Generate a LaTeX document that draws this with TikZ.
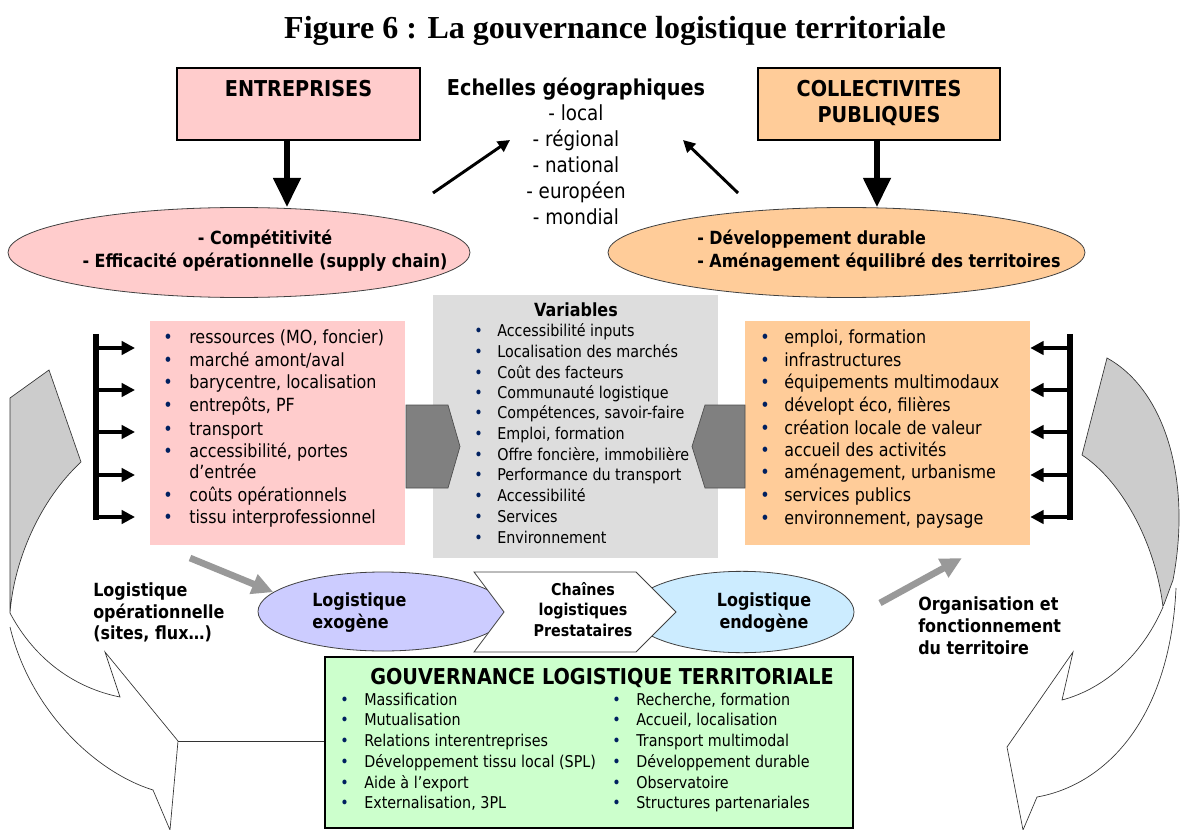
\documentclass[tikz,border=0pt]{standalone}
\usepackage{fontspec}
\setmainfont{DejaVu Sans}[FakeStretch=0.88]
\newfontfamily\titlefont{Liberation Serif}
\usetikzlibrary{arrows.meta,shapes.geometric}

\definecolor{entrpink}{RGB}{255,204,204}
\definecolor{collorange}{RGB}{255,204,153}
\definecolor{vargray}{RGB}{221,221,221}
\definecolor{chevgray}{RGB}{128,128,128}
\definecolor{exolilac}{RGB}{204,204,255}
\definecolor{endoblue}{RGB}{204,236,255}
\definecolor{govgreen}{RGB}{204,255,204}
\definecolor{bulletblue}{RGB}{0,32,96}
\definecolor{backgray}{RGB}{204,204,204}
\definecolor{arrowgray}{RGB}{153,153,153}

\newcommand{\fsmain}{\fontsize{13.6}{16}\selectfont}
\newcommand{\fssmall}{\fontsize{12.2}{15}\selectfont}
\newcommand{\fsbig}{\fontsize{16.4}{19}\selectfont}
\newcommand{\fsech}{\fontsize{15.6}{19}\selectfont}
\newcommand{\fstitle}{\titlefont\bfseries\fontsize{24}{28}\selectfont}
\newcommand{\itm}[1][19.5pt]{\llap{\makebox[#1][l]{\textcolor{bulletblue}{\textbullet}}}}

\begin{document}
\begin{tikzpicture}[x=0.75pt,y=0.75pt,yscale=-1,xscale=1,
  txt/.style={inner sep=0, anchor=base west},
  ctxt/.style={inner sep=0, anchor=base},
  item/.style={txt, font=\fsmain},
  smallitem/.style={txt, font=\fssmall},
  panel/.style={draw=black, line width=0.9pt, inner sep=0},
  flat/.style={inner sep=0},
  blob/.style={ellipse, draw=black!75, line width=0.6pt, inner sep=0},
  chev/.style={fill=chevgray, draw=black!70, line width=0.5pt},
  chain/.style={fill=white, draw=black!75, line width=0.6pt},
  backface/.style={fill=backgray, draw=black!80, line width=0.5pt},
  frontface/.style={fill=white, draw=black!80, line width=0.5pt},
  bigarrow/.style={line width=4.5pt, -{Triangle[width=20pt,length=22pt]}},
  thinarrow/.style={line width=2.2pt, -{Triangle[width=9pt,length=9pt]}},
  brackarrow/.style={line width=3pt, -{Triangle[width=10pt,length=10pt]}},
  grayarrow/.style={line width=5pt, draw=arrowgray, -{Triangle[width=15pt,length=16pt]}}]
\useasboundingbox (0,0) rectangle (1184,830);

% Shape: curved arrow, left
\draw[backface] (10,398) -- (49,370) -- (81,462) .. controls (40,500) and (14,560) .. (10,613) -- cycle;
\draw[frontface] (10,613) .. controls (35,660) and (75,688) .. (120,697) -- (105,652) -- (178,741) -- (170,830) -- (153,790) .. controls (95,772) and (30,710) .. (10,627);
\coordinate (ltip) at (178,741);

% Shape: curved arrow, right
\draw[backface] (1107,358) .. controls (1165,390) and (1192,480) .. (1173,580) -- (1163,607) .. controls (1155,540) and (1120,480) .. (1082,455) -- cycle;
\draw[frontface] (1163,607) .. controls (1140,660) and (1100,690) .. (1062,700) -- (1073,652) -- (1007,747) -- (1023,830) -- (1037,797) .. controls (1105,785) and (1170,720) .. (1176,588);

% Text Node
\node[ctxt, font=\fstitle] (title) at (615,38.5) {Figure 6 : La gouvernance logistique territoriale};

% Shape: Rectangle
\node[panel, fill=entrpink, minimum width=182.25pt, minimum height=54pt] (entr) at (298.5,104) {};
\node[ctxt, font=\fsbig\bfseries] (entrtxt) at (298.5,97) {ENTREPRISES};
\node[panel, fill=collorange, minimum width=181.5pt, minimum height=54pt] (coll) at (879,104) {};
\node[ctxt, font=\fsbig\bfseries] (colltxt1) at (879,97) {COLLECTIVITES};
\node[ctxt, font=\fsbig\bfseries] (colltxt2) at (879,123) {PUBLIQUES};

% Text Node
\node[ctxt, font=\fsbig\bfseries] (ech) at (576,96) {Echelles géographiques};
\foreach \y/\entry [count=\i] in {121/local, 147/régional, 173/national, 199/européen, 225/mondial}
  \node[ctxt, font=\fsech] (ech\i) at (576,\y) {- \entry};

% Shape: Ellipse
\node[blob, fill=entrpink, minimum width=346.5pt, minimum height=67.5pt] (compet) at (239,252.5) {};
\node[ctxt, font=\fsmain\bfseries] (compet1) at (265,245) {- Compétitivité};
\node[ctxt, font=\fsmain\bfseries] (compet2) at (265,268) {- Efficacité opérationnelle (supply chain)};
\node[blob, fill=collorange, minimum width=357.75pt, minimum height=67.5pt] (devdur) at (846.5,252.5) {};
\node[txt, font=\fsmain\bfseries] (devdur1) at (697,245) {- Développement durable};
\node[txt, font=\fsmain\bfseries] (devdur2) at (697,268) {- Aménagement équilibré des territoires};

% Connection
\coordinate (entrfoot) at (287,140);
\draw[bigarrow] (entrfoot) -- (entrfoot |- compet.north);
\coordinate (collfoot) at (877,140);
\draw[bigarrow] (collfoot) -- (collfoot |- devdur.north);
\coordinate (fromcompet) at (433,193);
\coordinate (echleft) at (510,140);
\draw[thinarrow] (fromcompet) -- (echleft);
\coordinate (fromdevdur) at (738,193);
\coordinate (echright) at (683,140);
\draw[thinarrow] (fromdevdur) -- (echright);

% Shape: Rectangle
\node[flat, fill=entrpink, minimum width=191.25pt, minimum height=168pt] (lbox) at (277.5,433) {};
\node[flat, fill=vargray, minimum width=213.75pt, minimum height=197.25pt] (vbox) at (575.5,426.5) {};
\node[flat, fill=collorange, minimum width=213.75pt, minimum height=168pt] (rbox) at (887.5,433) {};

% Shape: Chevron
\draw[chev] (406,405) -- (448,405) -- (460,446.5) -- (448,488) -- (406,488) -- cycle;
\draw[chev] (745,405) -- (705,405) -- (692,446.5) -- (705,488) -- (745,488) -- cycle;

% Text Node
\foreach \y/\entry [count=\i] in {344/{ressources (MO, foncier)}, 366/{marché amont/aval}, 388/{barycentre, localisation}, 411/{entrepôts, PF}, 435/{transport}, 457/{accessibilité, portes}, 501/{coûts opérationnels}, 523/{tissu interprofessionnel}}
  \node[item] (lit\i) at (189,\y) {\itm\entry};
\node[item] (lit6b) at (189,478) {d’entrée};

\node[ctxt, font=\fsmain\bfseries] (vartitle) at (576,316) {Variables};
\foreach \y/\entry [count=\i] in {336.5/{Accessibilité inputs}, 357.5/{Localisation des marchés}, 378.5/{Coût des facteurs}, 398.5/{Communauté logistique}, 418.5/{Compétences, savoir-faire}, 439.5/{Emploi, formation}, 460.5/{Offre foncière, immobilière}, 480.5/{Performance du transport}, 501.5/{Accessibilité}, 522.5/{Services}, 543.5/{Environnement}}
  \node[smallitem] (var\i) at (497,\y) {\itm[17.25pt]\entry};

\foreach \y/\entry [count=\i] in {344/{emploi, formation}, 366/{infrastructures}, 388/{équipements multimodaux}, 411/{dévelopt éco, filières}, 434/{création locale de valeur}, 456/{accueil des activités}, 478/{aménagement, urbanisme}, 501/{services publics}, 524/{environnement, paysage}}
  \node[item] (rit\i) at (784,\y) {\itm[18pt]\entry};

% Connection
\draw[line width=4.5pt] (96,334) -- (96,520);
\foreach \y in {348,390,432,475,517}
  \draw[brackarrow] (96,\y) -- (135,\y);
\draw[line width=4.5pt] (1070,334) -- (1070,520);
\foreach \y in {348,390,432,475,517}
  \draw[brackarrow] (1070,\y) -- (rbox.east |- 0,\y);

% Shape: Ellipse
\node[blob, fill=exolilac, minimum width=187.5pt, minimum height=59.25pt] (exo) at (383,611.5) {};
\node[blob, fill=endoblue, minimum width=168pt, minimum height=61pt] (endo) at (742,612) {};
% Shape: Chevron
\draw[chain] (474,572) -- (636,572) -- (676,612) -- (636,652) -- (474,652) -- (504,612) -- cycle;

% Text Node
\node[txt, font=\fsmain\bfseries] (exo1) at (312,606) {Logistique};
\node[txt, font=\fsmain\bfseries] (exo2) at (312,628) {exogène};
\node[ctxt, font=\fssmall\bfseries] (chain1) at (583,595) {Chaînes};
\node[ctxt, font=\fssmall\bfseries] (chain2) at (583,615) {logistiques};
\node[ctxt, font=\fssmall\bfseries] (chain3) at (583,636) {Prestataires};
\node[ctxt, font=\fsmain\bfseries] (endo1) at (764,606) {Logistique};
\node[ctxt, font=\fsmain\bfseries] (endo2) at (764,628) {endogène};

\node[txt, font=\fsmain\bfseries] (oplab1) at (93,596) {Logistique};
\node[txt, font=\fsmain\bfseries] (oplab2) at (93,618) {opérationnelle};
\node[txt, font=\fsmain\bfseries] (oplab3) at (93,639) {(sites, flux…)};
\node[txt, font=\fsmain\bfseries] (orglab1) at (918,610) {Organisation et};
\node[txt, font=\fsmain\bfseries] (orglab2) at (918,632) {fonctionnement};
\node[txt, font=\fsmain\bfseries] (orglab3) at (918,654) {du territoire};

% Connection
\coordinate (opstart) at (190,558);
\draw[grayarrow] (opstart) -- (exo.170);
\coordinate (orgstart) at (880,603);
\coordinate (orgend) at (962,558);
\draw[grayarrow] (orgstart) -- (orgend);

% Shape: Rectangle
\node[panel, line width=1.2pt, fill=govgreen, minimum width=396pt, minimum height=128.25pt] (gov) at (589,742.5) {};
\draw[line width=0.5pt, black!80] (ltip) -- (ltip -| gov.west);
\node[ctxt, font=\fsbig\bfseries] (govtitle) at (602,684) {GOUVERNANCE LOGISTIQUE TERRITORIALE};
\foreach \y/\entry [count=\i] in {705.5/{Massification}, 725.5/{Mutualisation}, 746.5/{Relations interentreprises}, 767.5/{Développement tissu local (SPL)}, 788.5/{Aide à l’export}, 808.5/{Externalisation, 3PL}}
  \node[smallitem] (govl\i) at (364,\y) {\itm[18pt]\entry};
\foreach \y/\entry [count=\i] in {705.5/{Recherche, formation}, 725.5/{Accueil, localisation}, 746.5/{Transport multimodal}, 767.5/{Développement durable}, 788.5/{Observatoire}, 808.5/{Structures partenariales}}
  \node[smallitem] (govr\i) at (636,\y) {\itm[18pt]\entry};

\end{tikzpicture}
\end{document}
